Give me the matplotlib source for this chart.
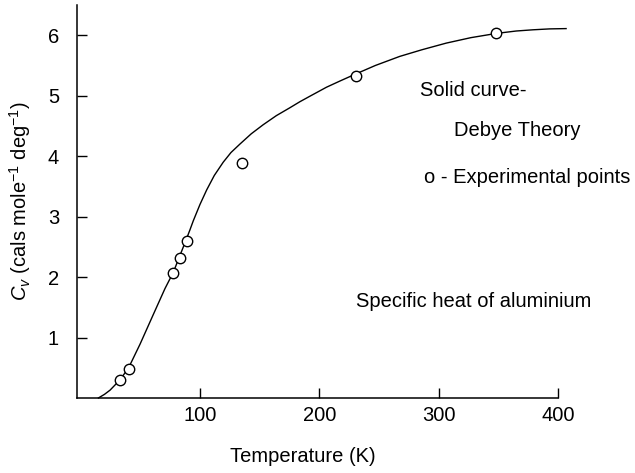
import matplotlib
matplotlib.use("Agg")
import matplotlib.pyplot as plt

plt.rcParams['font.family'] = ['Liberation Sans', 'DejaVu Sans']
plt.rcParams['mathtext.fontset'] = 'custom'
plt.rcParams['mathtext.rm'] = 'Liberation Sans'
plt.rcParams['mathtext.it'] = 'Liberation Sans:italic'

# Debye theory curve
curve_T = [14.9, 20.0, 24.7, 32.5, 40.0, 49.8, 60.9, 70.7, 77.7, 82.7, 88.3, 91.6,
           94.4, 100.0, 105.6, 112.0, 119.5, 126.0, 133.5, 143.0, 153.0, 164.0,
           175.3, 183.7, 192.0, 206.0, 217.0, 228.3, 247.0, 267.4, 286.0,
           306.4, 327.0, 348.3, 365.0, 379.0, 393.0, 406.8]
curve_Cv = [0.0, 0.06, 0.13, 0.29, 0.49, 0.89, 1.38, 1.81, 2.08, 2.33, 2.61, 2.78,
            2.93, 3.20, 3.44, 3.68, 3.90, 4.06, 4.20, 4.37, 4.52, 4.67,
            4.80, 4.90, 4.99, 5.14, 5.24, 5.34, 5.50, 5.65, 5.76,
            5.87, 5.96, 6.03, 6.07, 6.09, 6.105, 6.11]

# Experimental points
exp_T = [33.0, 40.8, 77.7, 83.3, 88.9, 134.9, 230.5, 348.3]
exp_Cv = [0.30, 0.48, 2.07, 2.32, 2.60, 3.89, 5.33, 6.04]

x_ticks = [100, 200, 300, 400]
y_ticks = [1, 2, 3, 4, 5, 6]

fig = plt.figure(figsize=(6.35, 4.73), dpi=100)
ax = fig.add_axes([0.1213, 0.1586, 0.7574, 0.8308])

ax.plot(curve_T, curve_Cv, color='black', lw=1.0, clip_on=False, zorder=2,
        solid_joinstyle='round')
ax.plot(exp_T, exp_Cv, 'o', ms=7.5, mfc='white', mec='black', mew=1.0,
        clip_on=False, zorder=3)

ax.set_xlim(-3, 400)
ax.set_ylim(0, 6.5)
ax.set_xticks(x_ticks)
ax.set_yticks(y_ticks)

for s in ['top', 'right']:
    ax.spines[s].set_visible(False)
for s in ['left', 'bottom']:
    ax.spines[s].set_linewidth(1.1)

ax.tick_params(axis='both', direction='in', length=7, width=1.0,
               labelsize=14.5)
ax.tick_params(axis='y', pad=13)
ax.tick_params(axis='x', pad=6)

ax.set_xlabel('Temperature (K)', fontsize=14.5)
ax.xaxis.set_label_coords(0.47, -0.125)
ax.set_ylabel(r'$C_v$ (cals mole$^{-1}$ deg$^{-1}$)', fontsize=14.5)
ax.yaxis.set_label_coords(-0.092, 0.5)

ax.text(284, 5.09, 'Solid curve-', fontsize=14.5, va='center', ha='left')
ax.text(313, 4.43, 'Debye Theory', fontsize=14.5, va='center', ha='left')
ax.text(288, 3.65, 'o - Experimental points', fontsize=14.5, va='center', ha='left')
ax.text(231, 1.59, 'Specific heat of aluminium', fontsize=14.5, va='center', ha='left')

fig.savefig('out.png', dpi=100)
